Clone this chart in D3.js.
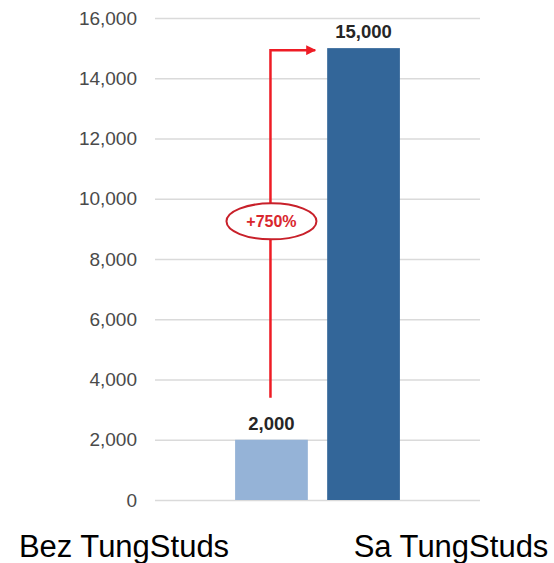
<!DOCTYPE html>
<html>
<head>
<meta charset="utf-8">
<script src="https://cdn.jsdelivr.net/npm/d3@7"></script>
<style>
  body { margin: 0; background: #fff; }
  text { font-family: Arial, "Liberation Sans", sans-serif; }
</style>
</head>
<body>
<div id="chart"></div>
<script>
// chart data
const categories = ["Bez TungStuds", "Sa TungStuds"];
const values = [2000, 15000];
const barColors = ["#95b3d7", "#336699"];
const yTicks = [0, 2000, 4000, 6000, 8000, 10000, 12000, 14000, 16000];
const changeLabel = "+750%";

const width = 554, height = 563;

const svg = d3.select("#chart")
  .append("svg")
    .attr("width", width)
    .attr("height", height);

// scales
const x = d3.scaleBand()
  .domain(categories)
  .range([155, 480])
  .paddingInner(0.21)
  .paddingOuter(0.87);

const y = d3.scaleLinear()
  .domain([0, 16000])
  .range([500, 18]);

// category labels sit wide apart, under the chart edges
const xLabel = d3.scalePoint()
  .domain(categories)
  .range([124, 451]);

// gridlines + tick labels
const yAxis = svg.append("g")
  .attr("transform", "translate(155,0)")
  .call(d3.axisLeft(y)
    .tickValues(yTicks)
    .tickSize(-325)
    .tickPadding(18)
    .tickFormat(d3.format(",")));

yAxis.select(".domain").remove();
yAxis.selectAll(".tick line")
  .attr("stroke", "#dadada")
  .attr("stroke-width", 1.5);
yAxis.selectAll(".tick text")
  .attr("fill", "#4a4a4a")
  .style("font-size", "19px");

// bars
svg.selectAll("rect.bar")
  .data(values)
  .enter()
  .append("rect")
    .attr("class", "bar")
    .attr("x", (d, i) => x(categories[i]))
    .attr("y", d => y(d))
    .attr("width", x.bandwidth())
    .attr("height", d => y(0) - y(d))
    .attr("fill", (d, i) => barColors[i]);

// value labels
svg.selectAll("text.value")
  .data(values)
  .enter()
  .append("text")
    .attr("class", "value")
    .attr("x", (d, i) => x(categories[i]) + x.bandwidth() / 2)
    .attr("y", d => y(d) - 10)
    .attr("text-anchor", "middle")
    .attr("fill", "#262626")
    .style("font-size", "18.5px")
    .style("font-weight", "bold")
    .text(d => d3.format(",")(d));

// category labels
svg.selectAll("text.cat")
  .data(categories)
  .enter()
  .append("text")
    .attr("class", "cat")
    .attr("x", d => xLabel(d))
    .attr("y", 557)
    .attr("text-anchor", "middle")
    .attr("fill", "#000")
    .style("font-size", "31px")
    .text(d => d);

// growth arrow
svg.append("defs")
  .append("marker")
    .attr("id", "arrow")
    .attr("viewBox", "0 0 10 10")
    .attr("refX", 9)
    .attr("refY", 5)
    .attr("markerWidth", 4)
    .attr("markerHeight", 4)
    .attr("orient", "auto")
  .append("path")
    .attr("d", "M0,0 L10,5 L0,10 z")
    .attr("fill", "#ee1c25");

const ax = x(categories[0]) + x.bandwidth() / 2 - 1;
const arrowTop = y(values[1]) + 2;
const arrowBottom = y(values[0]) - 42;
const arrowEnd = x(categories[1]) - 12;

svg.append("path")
  .attr("d", `M${ax},${arrowBottom} L${ax},${arrowTop} L${arrowEnd},${arrowTop}`)
  .attr("fill", "none")
  .attr("stroke", "#ee1c25")
  .attr("stroke-width", 2.5)
  .attr("marker-end", "url(#arrow)");

// change badge
const badgeY = y(9250);
svg.append("ellipse")
  .attr("cx", ax + 1)
  .attr("cy", badgeY)
  .attr("rx", 45)
  .attr("ry", 18)
  .attr("fill", "#fff")
  .attr("stroke", "#c8202a")
  .attr("stroke-width", 2);

svg.append("text")
  .attr("x", ax + 1)
  .attr("y", badgeY + 6)
  .attr("text-anchor", "middle")
  .attr("fill", "#d9262e")
  .style("font-size", "16px")
  .style("font-weight", "bold")
  .text(changeLabel);
</script>
</body>
</html>
